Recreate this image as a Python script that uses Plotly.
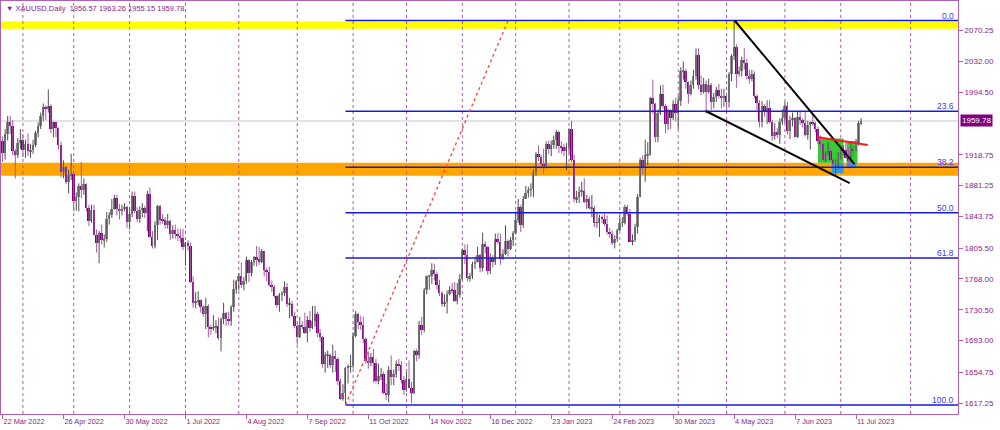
import plotly.graph_objects as go
import pandas as pd

# ---------------- data ----------------
start_date = "2022-03-22"
end_date = "2023-07-13"
broker_holidays = ["2022-04-15", "2022-12-26", "2023-01-02", "2023-04-07"]

opens = [
    1936,1921,1944,1958,1954,1923,1919,1933,
    1937,1925,1932,1923,1925,1931,1945,1954,1966,1977,1974,1978,1950,1958,1951,1931,1898,1904,1886,1894,
    1896,1863,1868,1881,1876,1883,1854,1838,1852,1821,1811,1824,1815,1816,1841,1846,1853,1866,1853,1851,1853,1855,
    1837,1847,1869,1851,1841,1852,1854,1848,1871,1819,1808,1834,1857,1840,1839,1833,1838,1823,1827,1823,1820,1818,
    1807,1811,1808,1764,1739,1740,1742,1734,1725,1735,1710,1708,1709,1711,1696,1719,1727,1719,1717,1734,1756,
    1766,1772,1760,1765,1791,1775,1789,1794,1792,1789,1802,1779,1776,1761,1758,1747,1736,1748,1751,1758,1737,1737,1723,
    1711,1697,1712,1710,1702,1718,1708,1717,1725,1702,1697,1665,1675,1675,1664,1674,1671,1644,1622,1629,1660,1661,
    1662,1699,1725,1716,1712,1695,1668,1666,1673,1666,1644,1650,1652,1629,1627,1657,1649,1652,1665,1663,1645,
    1633,1647,1636,1629,1681,1676,1712,1706,1755,1771,1771,1779,1774,1761,1751,1738,1740,1750,1755,1754,1741,1749,
    1768,1803,1797,1769,1771,1786,1789,1797,1781,1810,1807,1777,1793,1788,1817,1813,1792,1798,1814,1804,1815,
    1824,1839,1855,1833,1865,1872,1876,1877,1898,1920,1916,1908,1905,1932,1926,1931,1937,1946,1929,1928,1923,
    1928,1950,1912,1865,1867,1874,1875,1861,1865,1854,1854,1836,1836,1842,1841,1835,1825,1822,1811,1817,
    1827,1836,1836,1855,1847,1813,1815,1831,1868,1913,1904,1918,1919,1988,1980,1940,1969,1993,1978,1956,1973,1964,1980,
    1969,1984,2020,2021,2007,1993,2003,2015,2040,2004,1995,2005,1995,2004,1983,1989,1998,1990,1988,
    1990,1983,2017,2039,2050,2017,2021,2034,2030,2015,2011,2017,1990,1982,1958,1978,1971,1975,1958,1941,1946,1943,1959,
    1963,1978,1948,1961,1963,1940,1965,1961,1957,1943,1955,1958,1957,1950,1936,1932,1913,1921,1923,1913,1907,1908,
    1919,1921,1925,1915,1911,1925,1924,1932,1956.57,
]
highs = [
    1941,1950,1966,1966,1961,1926,1939,1950,
    1944,1937,1945,1932,1937,1948,1958,1970,1981,1979,1998,1980,1959,1958,1952,1935,1912,1905,1900,1920,
    1899,1873,1884,1910,1890,1884,1858,1858,1858,1828,1826,1834,1822,1849,1849,1865,1870,1870,1859,1858,1860,1857,
    1855,1874,1874,1855,1856,1860,1857,1875,1879,1826,1838,1858,1858,1847,1843,1847,1840,1833,1834,1829,1829,1829,
    1813,1815,1812,1771,1752,1753,1743,1736,1745,1737,1712,1724,1718,1721,1721,1739,1728,1728,1736,1767,1767,
    1775,1788,1770,1795,1792,1791,1796,1808,1807,1804,1802,1782,1783,1766,1760,1748,1751,1753,1765,1763,1745,1741,1728,
    1714,1722,1717,1727,1723,1729,1735,1735,1728,1707,1699,1679,1681,1677,1688,1681,1673,1647,1640,1661,1664,1676,
    1703,1729,1727,1723,1722,1697,1680,1678,1683,1671,1665,1660,1655,1641,1662,1675,1658,1669,1671,1668,1650,
    1655,1669,1643,1682,1683,1717,1722,1757,1772,1772,1787,1786,1777,1767,1753,1749,1754,1759,1763,1764,1763,1774,
    1805,1810,1810,1775,1789,1795,1807,1798,1824,1814,1808,1799,1797,1823,1824,1823,1804,1833,1816,1819,1826,
    1850,1865,1858,1869,1881,1880,1884,1901,1922,1930,1919,1926,1935,1936,1936,1942,1949,1948,1935,1932,1933,
    1951,1960,1919,1875,1880,1886,1890,1870,1868,1870,1857,1849,1846,1845,1847,1845,1830,1827,1821,1829,
    1845,1843,1858,1858,1853,1822,1835,1871,1915,1918,1937,1934,1989,2010,1982,1974,2003,2004,1980,1975,1974,1985,1988,
    1990,2025,2032,2023,2008,2009,2022,2048,2048,2015,2012,2009,2011,2006,1994,2001,2005,1999,1999,
    1994,2019,2041,2082,2053,2026,2038,2048,2035,2022,2022,2020,1992,1985,1984,1980,1985,1985,1961,1957,1951,1963,1974,
    1983,1983,1966,1970,1964,1972,1972,1963,1971,1960,1959,1969,1959,1953,1942,1933,1923,1934,1927,1915,1913,1922,
    1930,1930,1936,1927,1935,1930,1938,1960,1963.26,
]
lows = [
    1910,1913,1936,1944,1918,1890,1915,1926,
    1916,1915,1917,1915,1920,1928,1940,1950,1960,1961,1970,1945,1940,1940,1925,1891,1890,1883,1872,1888,
    1850,1851,1850,1866,1870,1850,1832,1836,1821,1800,1787,1810,1806,1813,1834,1842,1852,1845,1840,1845,1850,1830,
    1828,1843,1848,1837,1836,1843,1842,1826,1818,1805,1805,1815,1834,1835,1829,1829,1815,1817,1817,1814,1812,1803,
    1784,1802,1763,1733,1732,1736,1727,1722,1707,1697,1700,1705,1702,1694,1680,1713,1711,1712,1711,1728,1750,
    1754,1757,1754,1762,1764,1771,1784,1783,1785,1787,1771,1765,1759,1752,1745,1733,1728,1741,1747,1734,1720,1722,1708,
    1688,1696,1707,1701,1691,1704,1707,1710,1697,1692,1660,1654,1660,1660,1654,1655,1639,1621,1620,1615,1641,1654,
    1659,1697,1707,1706,1690,1665,1659,1662,1642,1641,1640,1645,1628,1621,1618,1639,1639,1648,1656,1641,1627,
    1631,1635,1617,1628,1668,1671,1700,1703,1749,1755,1762,1766,1755,1747,1734,1734,1726,1748,1750,1740,1737,1745,
    1767,1786,1765,1765,1768,1780,1788,1776,1777,1799,1773,1774,1782,1785,1810,1785,1791,1797,1795,1803,1808,
    1822,1836,1825,1830,1865,1867,1868,1867,1893,1911,1902,1896,1902,1920,1917,1926,1926,1921,1920,1917,1900,
    1920,1910,1861,1860,1860,1868,1860,1853,1852,1843,1831,1830,1819,1836,1832,1822,1818,1809,1805,1813,
    1826,1831,1834,1845,1813,1809,1813,1823,1867,1895,1886,1906,1918,1968,1934,1934,1967,1975,1945,1949,1950,1961,1959,
    1950,1978,2010,1999,1981,1991,1999,2010,1998,1991,1993,1969,1993,1973,1975,1983,1987,1975,1977,
    1969,1976,2008,2034,2000,2014,2014,2022,2010,2005,2008,1987,1973,1952,1952,1965,1956,1957,1936,1937,1939,1932,1955,
    1957,1943,1938,1953,1940,1939,1955,1952,1941,1937,1925,1954,1946,1932,1926,1911,1910,1918,1912,1903,1893,1902,
    1913,1918,1914,1902,1909,1915,1923,1930,1955.15,
]
closes = [
    1921,1944,1958,1954,1923,1919,1933,1937,
    1925,1932,1923,1925,1931,1945,1954,1966,1977,1974,1978,1950,1958,1951,1931,1898,1904,1886,1894,1896,
    1863,1868,1881,1876,1883,1854,1838,1852,1821,1811,1824,1815,1816,1841,1846,1853,1866,1853,1851,1853,1855,1837,
    1847,1869,1851,1841,1852,1854,1848,1871,1819,1808,1834,1857,1840,1839,1833,1838,1823,1827,1823,1820,1818,1807,
    1811,1808,1764,1739,1740,1742,1734,1725,1735,1710,1708,1709,1711,1696,1719,1727,1719,1717,1734,1756,1766,
    1772,1760,1765,1791,1775,1789,1794,1792,1789,1802,1779,1776,1761,1758,1747,1736,1748,1751,1758,1737,1737,1723,1711,
    1697,1712,1710,1702,1718,1708,1717,1725,1702,1697,1665,1675,1675,1664,1674,1671,1644,1622,1629,1660,1661,1662,
    1699,1725,1716,1712,1695,1668,1666,1673,1666,1644,1650,1652,1629,1627,1657,1649,1652,1665,1663,1645,1633,
    1647,1636,1629,1681,1676,1712,1706,1755,1771,1771,1779,1774,1761,1751,1738,1740,1750,1755,1754,1741,1749,1768,
    1803,1797,1769,1771,1786,1789,1797,1781,1810,1807,1777,1793,1788,1817,1813,1792,1798,1814,1804,1815,1824,
    1839,1855,1833,1865,1872,1876,1877,1898,1920,1916,1908,1905,1932,1926,1931,1937,1946,1929,1928,1923,1928,
    1950,1912,1865,1867,1874,1875,1861,1865,1854,1854,1836,1836,1842,1841,1835,1825,1822,1811,1817,1827,
    1836,1836,1855,1847,1813,1815,1831,1868,1913,1904,1918,1919,1988,1980,1940,1969,1993,1978,1956,1973,1964,1980,1969,
    1984,2020,2021,2007,1993,2003,2015,2040,2004,1995,2005,1995,2004,1983,1989,1998,1990,1988,1990,
    1983,2017,2039,2050,2017,2021,2034,2030,2015,2011,2017,1990,1982,1958,1978,1971,1975,1958,1941,1946,1943,1959,1963,
    1978,1948,1961,1963,1940,1965,1961,1957,1943,1955,1958,1957,1950,1936,1932,1913,1921,1923,1913,1907,1908,1919,
    1921,1925,1915,1911,1925,1924,1932,1957,1959.78,
]

y_tick_values = [2070.25, 2032.00, 1994.50, 1918.75, 1881.25, 1843.75,
                 1805.50, 1768.00, 1730.50, 1693.00, 1654.75, 1617.25]
x_label_step = 24
future_grid_bars = [357.5]

fib_low, fib_high = 1614.9, 2081.8
fib_levels = [0.0, 23.6, 38.2, 50.0, 61.8, 100.0]
fib_start_bar, fib_end_bar = 135, 199

yellow_zone = (2071.8, 2080.6)
orange_zone = (1893.3, 1909.1)
last_price = 1959.78
title_text = "XAUUSD,Daily  1956.57 1963.26 1955.15 1959.78"

wedge_upper = [(288.2, 2081.8), (335.4, 1907.5)]
wedge_lower = [(276.8, 1971.9), (333.5, 1884.4)]
neckline = [(320.5, 1940.3), (340.6, 1930.6)]
green_boxes = [(321.0, 331.1, 1908.9, 1938.5), (332.3, 336.6, 1908.9, 1935.4)]
blue_boxes = [(326.4, 331.1, 1896.6, 1908.9), (332.3, 336.2, 1904.0, 1908.9)]

# ---------------- build ----------------
dates = [d for d in pd.bdate_range(start_date, end_date) if d.strftime("%Y-%m-%d") not in broker_holidays]
n = min(len(dates), len(opens), len(highs), len(lows), len(closes))
xs = list(range(n))

PURPLE = "#8b1c8b"
AXIS = "#b060b0"
GRID = "#c050c0"
FIB = "#1a1ad6"
FONT = "Liberation Sans"
UP_BODY, UP_WICK = "#8a8a8a", "#505050"
DN_BODY, DN_WICK = "#800080", "#a85aa8"

fig = go.Figure()
for want_up, wick_col, body_col in [(True, UP_WICK, UP_BODY), (False, DN_WICK, DN_BODY)]:
    idx = [i for i in xs if (closes[i] >= opens[i]) == want_up]
    wx, wy = [], []
    for i in idx:
        wx += [i, i, None]
        wy += [lows[i], highs[i], None]
    fig.add_trace(go.Scatter(x=wx, y=wy, mode="lines", line=dict(color=wick_col, width=1),
                             hoverinfo="skip", showlegend=False))
    fig.add_trace(go.Bar(x=idx, base=[min(opens[i], closes[i]) for i in idx],
                         y=[max(abs(closes[i] - opens[i]), 0.8) for i in idx],
                         width=0.78, marker=dict(color=body_col, line=dict(width=0)),
                         hoverinfo="skip", showlegend=False))

shapes = []
for lo, hi, col in [(yellow_zone[0], yellow_zone[1], "#ffff00"), (orange_zone[0], orange_zone[1], "#ffa500")]:
    shapes.append(dict(type="rect", xref="paper", x0=0, x1=1, yref="y", y0=lo, y1=hi,
                       fillcolor=col, line=dict(width=0), layer="below"))
grid_bars = [i for i in range(1, n) if dates[i].month != dates[i - 1].month] + future_grid_bars
for g in grid_bars:
    shapes.append(dict(type="line", xref="x", x0=g, x1=g, yref="paper", y0=0, y1=1,
                       line=dict(color=GRID, width=1, dash="dot"), layer="below"))
shapes.append(dict(type="line", xref="paper", x0=0, x1=1, yref="y", y0=last_price, y1=last_price,
                   line=dict(color="#c8c8c8", width=1), layer="below"))
for x0, x1, y0, y1 in green_boxes:
    shapes.append(dict(type="rect", x0=x0, x1=x1, y0=y0, y1=y1, fillcolor="#33cc33",
                       line=dict(width=0), layer="below"))
for x0, x1, y0, y1 in blue_boxes:
    shapes.append(dict(type="rect", x0=x0, x1=x1, y0=y0, y1=y1, fillcolor="#3399dd",
                       line=dict(width=0), layer="below"))

rng = fib_high - fib_low
fib_prices = [fib_high - lv / 100.0 * rng for lv in fib_levels]
x_right = 376.15
for lv, p in zip(fib_levels, fib_prices):
    shapes.append(dict(type="line", x0=fib_start_bar, x1=x_right, y0=p, y1=p,
                       line=dict(color=FIB, width=1.5), layer="above"))
shapes.append(dict(type="line", x0=fib_start_bar, x1=fib_end_bar, y0=fib_low, y1=fib_high,
                   line=dict(color="#ff4040", width=1.3, dash="dot"), layer="above"))
for seg, col in [(wedge_upper, "black"), (wedge_lower, "black"), (neckline, "#ff1a1a")]:
    shapes.append(dict(type="line", x0=seg[0][0], y0=seg[0][1], x1=seg[1][0], y1=seg[1][1],
                       line=dict(color=col, width=2), layer="above"))

annotations = []
for lv, p in zip(fib_levels, fib_prices):
    annotations.append(dict(xref="paper", x=1, xanchor="right", xshift=-2, yref="y", y=p,
                            yanchor="bottom", yshift=-2, text=f"{lv:.1f}", showarrow=False,
                            font=dict(family=FONT, size=8.5, color="#3b3bff")))
annotations.append(dict(xref="paper", x=0, xanchor="left", xshift=3, yref="paper", y=1,
                        yanchor="top", yshift=-1, text="\u25BC " + title_text, showarrow=False,
                        font=dict(family=FONT, size=7.5, color=PURPLE)))
annotations.append(dict(xref="paper", x=1, xanchor="left", xshift=2, yref="y", y=last_price,
                        text=f"{last_price:.2f}", showarrow=False, bgcolor="#800080", borderpad=1,
                        font=dict(family=FONT, size=8, color="white")))

tick_idx = list(range(0, n, x_label_step))
tick_txt = [f"{dates[i].day} {dates[i].strftime('%b %Y')}" for i in tick_idx]

fig.update_layout(
    width=1000, height=430,
    margin=dict(l=1, r=42, t=1, b=16),
    paper_bgcolor="white", plot_bgcolor="white",
    shapes=shapes, annotations=annotations, showlegend=False, barmode="overlay", bargap=0,
    font=dict(family=FONT, size=8, color=PURPLE),
    xaxis=dict(range=[-0.63, x_right], tickvals=tick_idx, ticktext=tick_txt,
               ticks="outside", ticklen=4, tickcolor=AXIS, ticklabelposition="outside right",
               tickfont=dict(family=FONT, size=7.3, color=PURPLE),
               showgrid=False, zeroline=False, showline=True, linecolor=AXIS, mirror=True),
    yaxis=dict(range=[1603.9, 2105.5], side="right", tickvals=y_tick_values,
               ticktext=[f"{v:.2f}" for v in y_tick_values],
               ticks="outside", ticklen=4, tickcolor=AXIS,
               tickfont=dict(family=FONT, size=8, color=PURPLE),
               showgrid=False, zeroline=False, showline=True, linecolor=AXIS, mirror=True),
)

fig.write_html("out.html", config={"displayModeBar": False},
               post_script="document.body.style.margin='0px';")
